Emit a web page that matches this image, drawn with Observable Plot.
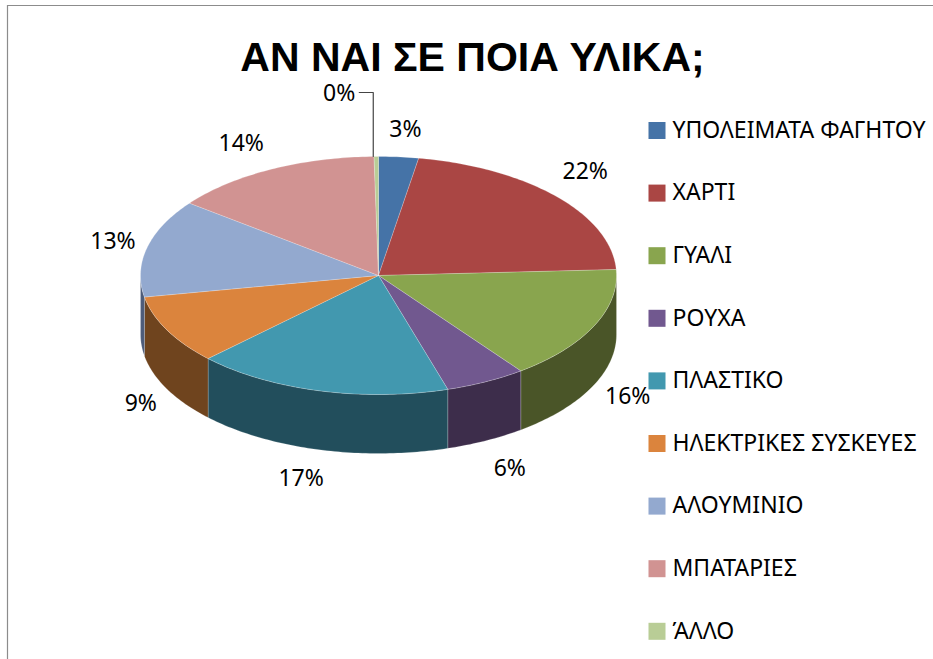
<!DOCTYPE html>
<html>
<head>
<meta charset="utf-8">
<script src="https://cdn.jsdelivr.net/npm/d3@7"></script>
<script src="https://cdn.jsdelivr.net/npm/@observablehq/plot@0.6"></script>
<style>
html,body{margin:0;padding:0;background:#fff;overflow:hidden}
svg{display:block}
</style>
</head>
<body>
<div id="chart"></div>
<script>
// Data
const title = "ΑΝ ΝΑΙ ΣΕ ΠΟΙΑ ΥΛΙΚΑ;";
const categories = ["ΥΠΟΛΕΙΜΑΤΑ ΦΑΓΗΤΟΥ","ΧΑΡΤΙ","ΓΥΑΛΙ","ΡΟΥΧΑ","ΠΛΑΣΤΙΚΟ","ΗΛΕΚΤΡΙΚΕΣ ΣΥΣΚΕΥΕΣ","ΑΛΟΥΜΙΝΙΟ","ΜΠΑΤΑΡΙΕΣ","ΆΛΛΟ"];
const values = [2.7,21.5,15.6,5.5,17.4,9.4,13.3,14.3,0.3];
const colors = ["#4573a7","#aa4644","#89a54e","#71588f","#4298af","#db843d","#93a9cf","#d19392","#b9cd96"];
const sideColors = ["#2a4566","#672a29","#4a5528","#3d2d4b","#224e5c","#6f441e","#4d5c7a","#7e5958","#6f7b5a"];

// Layout of the tilted pie
const cx = 378, cy = 275, rx = 238, ry = 119, depth = 59;
const labelNudge = [[4,0],[4,-7],[4,0],[9,4],[-10,3],[3,2],[-2,0],[-15,-2],[0,0]];
const legendX = 656.5, legendTextX = 672, legendTop = 130, legendStep = 62.6;

const TAU = Math.PI * 2;
const total = d3.sum(values);
const stops = [0, ...d3.cumsum(values)].map(v => v / total * TAU);
const px = t => cx + rx * Math.sin(t);
const py = t => cy - ry * Math.cos(t);

const topPts = [], sidePts = [];
categories.forEach((name, i) => {
  const a = stops[i], b = stops[i + 1];
  const n = Math.max(2, Math.ceil((b - a) * 60));
  const ring = d3.range(n + 1).map(k => a + (b - a) * k / n);
  [[cx, cy], ...ring.map(t => [px(t), py(t)]), [cx, cy]].forEach(([x, y]) => topPts.push({name, x, y}));
  // the rim is visible only on the front half of the ellipse
  const s = Math.max(a, TAU / 4), e = Math.min(b, TAU * 3 / 4);
  if (e > s) {
    const m = Math.max(2, Math.ceil((e - s) * 60));
    const arc = d3.range(m + 1).map(k => s + (e - s) * k / m);
    const poly = [...arc.map(t => [px(t), py(t)]), ...arc.slice().reverse().map(t => [px(t), py(t) + depth])];
    poly.push(poly[0]);
    poly.forEach(([x, y]) => sidePts.push({name, side: sideColors[i], x, y}));
  }
});

const mids = values.map((_, i) => (stops[i] + stops[i + 1]) / 2);
const labels = categories.map((name, i) => {
  const t = mids[i];
  const lower = Math.cos(t) < 0 ? depth : 0;
  return {
    text: Math.round(values[i] / total * 100) + "%",
    x: px(t) + 33 * Math.sin(t) + labelNudge[i][0],
    y: py(t) - 27 * Math.cos(t) + lower + labelNudge[i][1]
  };
});
// The smallest slice carries its label on a leader line
const last = categories.length - 1;
const lead = {x: px(mids[last]) - 3, y: py(mids[last])};
labels[last].x = lead.x - 34;
labels[last].y = lead.y - 63;
const leader = [lead, {x: lead.x, y: lead.y - 64}, {x: lead.x - 14, y: lead.y - 64}];

const legend = categories.map((name, i) => ({name, x: legendX, tx: legendTextX, y: legendTop + legendStep * i}));

const font = "'Noto Sans', sans-serif";
const chart = Plot.plot({
  width: 933, height: 659, margin: 0,
  x: {domain: [0, 933], range: [0, 933], axis: null},
  y: {domain: [0, 659], range: [0, 659], axis: null},
  color: {domain: categories, range: colors},
  style: {background: "#fff", fontFamily: font},
  marks: [
    Plot.ruleX([7], {y1: 5, y2: 659, stroke: "#8c8c8c", strokeWidth: 1.2}),
    Plot.ruleY([5], {x1: 7, x2: 933, stroke: "#8c8c8c", strokeWidth: 1.2}),
    Plot.text([title], {x: 472, y: 57, text: d => d, fontSize: 41, fontWeight: 700, fontFamily: "'Liberation Sans', sans-serif", fill: "#000"}),
    Plot.line(sidePts, {x: "x", y: "y", z: "name", fill: {value: "side", scale: null}, stroke: "#fff", strokeOpacity: 0.3, strokeWidth: 0.6}),
    Plot.line(topPts, {x: "x", y: "y", z: "name", fill: "name", stroke: "#fff", strokeOpacity: 0.35, strokeWidth: 0.6}),
    Plot.line(leader, {x: "x", y: "y", stroke: "#444", strokeWidth: 1.2}),
    Plot.text(labels, {x: "x", y: "y", text: "text", fontSize: 23, fill: "#000"}),
    Plot.dot(legend, {x: "x", y: "y", fill: "name", symbol: "square", r: 9.6, stroke: "none"}),
    Plot.text(legend, {x: "tx", y: "y", text: "name", textAnchor: "start", fontSize: 23, fill: "#000"})
  ]
});
document.getElementById("chart").append(chart);
</script>
</body>
</html>
